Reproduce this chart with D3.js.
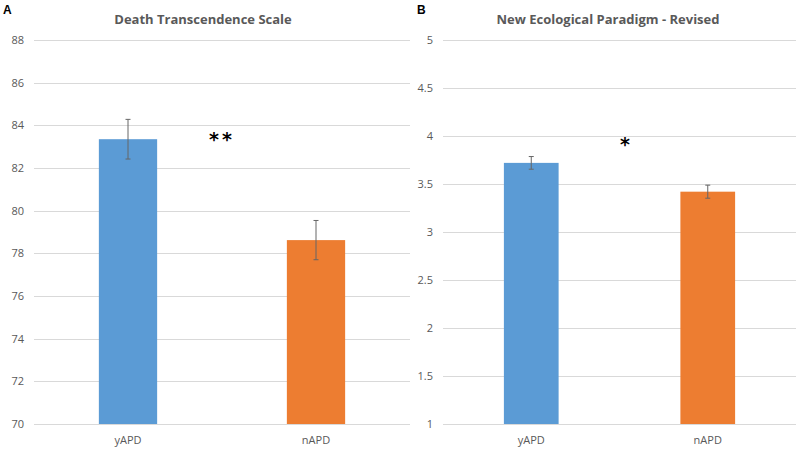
<!DOCTYPE html>
<html>
<head>
<meta charset="utf-8">
<script src="https://cdn.jsdelivr.net/npm/d3@7"></script>
<style>
  body { margin: 0; background: #fff; }
  svg { display: block; }
  text { font-family: "Open Sans", "Noto Sans", sans-serif; }
</style>
</head>
<body>
<svg width="799" height="449"></svg>
<script>
// data
var groups = ['yAPD', 'nAPD']
var colors = ['#5B9BD5', '#ED7D31']

var dtsMeans = [83.35, 78.62]
var dtsErrors = [0.93, 0.92]
var dtsTicks = [70, 72, 74, 76, 78, 80, 82, 84, 86, 88]

var nepMeans = [3.72, 3.42]
var nepErrors = [0.066, 0.068]
var nepTicks = [1, 1.5, 2, 2.5, 3, 3.5, 4, 4.5, 5]

var svg = d3.select('svg')

function panel(opt) {
    var y = d3.scaleLinear()
        .domain([opt.ticks[0], opt.ticks[opt.ticks.length - 1]])
        .range([424, 40])

    var x = d3.scaleBand()
        .domain(groups)
        .range([opt.left, opt.right])
        .paddingInner(0.69)
        .paddingOuter(0.345)

    var g = svg.append('g')

    // gridlines
    g.selectAll('line.grid')
        .data(opt.ticks)
        .enter()
        .append('line')
        .attr('x1', opt.left)
        .attr('x2', opt.right)
        .attr('y1', d => Math.round(y(d)) + 0.5)
        .attr('y2', d => Math.round(y(d)) + 0.5)
        .attr('stroke', '#d9d9d9')
        .attr('stroke-width', 1)

    // y labels
    g.selectAll('text.ylab')
        .data(opt.ticks)
        .enter()
        .append('text')
        .text(d => d)
        .attr('x', opt.labelX)
        .attr('y', d => y(d) + 4)
        .style('text-anchor', 'end')
        .style('font-size', '11px')
        .style('fill', '#595959')

    // bars
    g.selectAll('rect')
        .data(opt.means)
        .enter()
        .append('rect')
        .attr('x', (d, i) => x(groups[i]))
        .attr('width', x.bandwidth())
        .attr('y', d => y(d))
        .attr('height', d => y(opt.ticks[0]) - y(d))
        .attr('fill', (d, i) => colors[i])

    // error bars
    var eb = g.selectAll('g.err')
        .data(opt.means)
        .enter()
        .append('g')
        .attr('stroke', '#666')
        .attr('stroke-width', 1)

    eb.append('line')
        .attr('x1', (d, i) => x(groups[i]) + x.bandwidth() / 2)
        .attr('x2', (d, i) => x(groups[i]) + x.bandwidth() / 2)
        .attr('y1', (d, i) => y(d + opt.errors[i]))
        .attr('y2', (d, i) => y(d - opt.errors[i]))
    eb.append('line')
        .attr('x1', (d, i) => x(groups[i]) + x.bandwidth() / 2 - 2.5)
        .attr('x2', (d, i) => x(groups[i]) + x.bandwidth() / 2 + 2.5)
        .attr('y1', (d, i) => y(d + opt.errors[i]))
        .attr('y2', (d, i) => y(d + opt.errors[i]))
    eb.append('line')
        .attr('x1', (d, i) => x(groups[i]) + x.bandwidth() / 2 - 2.5)
        .attr('x2', (d, i) => x(groups[i]) + x.bandwidth() / 2 + 2.5)
        .attr('y1', (d, i) => y(d - opt.errors[i]))
        .attr('y2', (d, i) => y(d - opt.errors[i]))

    // category labels
    g.selectAll('text.xlab')
        .data(groups)
        .enter()
        .append('text')
        .text(d => d)
        .attr('x', d => x(d) + x.bandwidth() / 2)
        .attr('y', 444)
        .style('text-anchor', 'middle')
        .style('font-size', '11px')
        .style('fill', '#595959')

    // title
    g.append('text')
        .text(opt.title)
        .attr('x', opt.titleX)
        .attr('y', 24)
        .style('text-anchor', 'middle')
        .style('font-size', '13px')
        .style('font-weight', 'bold')
        .style('fill', '#595959')

    // significance stars
    g.append('text')
        .text(opt.stars)
        .attr('x', (x(groups[0]) + x(groups[1]) + x.bandwidth()) / 2 + opt.starDx)
        .attr('y', opt.starY)
        .style('text-anchor', 'middle')
        .style('font-size', '19px')
        .style('font-weight', 'bold')
        .style('font-family', 'DejaVu Sans')
        .style('fill', '#000')
        .style('letter-spacing', '3px')

    // panel letter
    g.append('text')
        .text(opt.letter)
        .attr('x', opt.letterX)
        .attr('y', 14)
        .style('font-family', 'Liberation Sans, Arial')
        .style('font-size', '12px')
        .style('font-weight', 'bold')
        .style('fill', '#000')
}

panel({
    ticks: dtsTicks, means: dtsMeans, errors: dtsErrors,
    left: 34, right: 410, labelX: 24, title: 'Death Transcendence Scale',
    titleX: 203, stars: '**', starY: 146, starDx: 0, letter: 'A', letterX: 3
})

panel({
    ticks: nepTicks, means: nepMeans, errors: nepErrors,
    left: 443, right: 796, labelX: 433, title: 'New Ecological Paradigm - Revised',
    titleX: 608, stars: '*', starY: 151, starDx: 7, letter: 'B', letterX: 417
})
</script>
</body>
</html>
